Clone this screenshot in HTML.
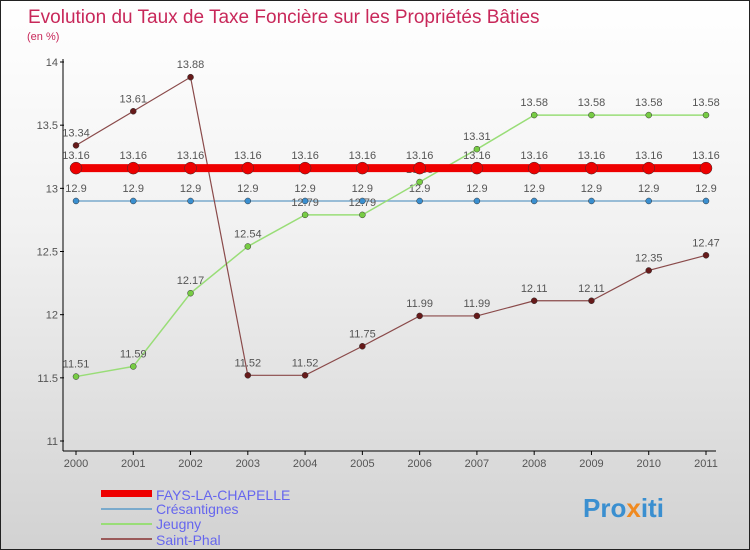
<!DOCTYPE html>
<html><head><meta charset="utf-8"><style>
body{margin:0;width:750px;height:550px;overflow:hidden}
#wrap{position:relative;width:748px;height:548px;border:1px solid #222;background:linear-gradient(#fff 0%,#f2f2f2 40%,#d2d2d2 100%);font-family:"Liberation Sans",sans-serif}
</style></head><body>
<div id="wrap">
<svg id="svg" width="748" height="548" style="position:absolute;left:0;top:0">
<text x="27" y="22" font-size="19" fill="#c8285a">Evolution du Taux de Taxe Foncière sur les Propriétés Bâties</text>
<text x="26" y="39" font-size="11" fill="#c8285a">(en %)</text>
<g id="axes"></g><g id="series"></g>
<g>
<rect x="100" y="489" width="51" height="7" fill="#e00"/>
<text x="155" y="499" font-size="14" fill="#6666ee">FAYS-LA-CHAPELLE</text>
<rect x="100" y="507" width="51" height="2" fill="#7aaacc"/>
<text x="155" y="513" font-size="14" fill="#6666ee">Crésantignes</text>
<rect x="100" y="522" width="51" height="2" fill="#99dd77"/>
<text x="155" y="528" font-size="14" fill="#6666ee">Jeugny</text>
<rect x="100" y="537" width="51" height="2" fill="#9a5a5a"/>
<text x="155" y="544" font-size="14" fill="#6666ee">Saint-Phal</text>
</g>
<g><text x="582" y="516" font-size="26" font-weight="bold" fill="#3a8fd0">Pro<tspan fill="#f08a20">x</tspan>iti</text></g>
</svg>
</div>
<script>
const years=[2000,2001,2002,2003,2004,2005,2006,2007,2008,2009,2010,2011];
const yTicks=[11,11.5,12,12.5,13,13.5,14];
const fays=[13.16,13.16,13.16,13.16,13.16,13.16,13.16,13.16,13.16,13.16,13.16,13.16];
const cres=[12.9,12.9,12.9,12.9,12.9,12.9,12.9,12.9,12.9,12.9,12.9,12.9];
const jeugny=[11.51,11.59,12.17,12.54,12.79,12.79,13.05,13.31,13.58,13.58,13.58,13.58];
const phal=[13.34,13.61,13.88,11.52,11.52,11.75,11.99,11.99,12.11,12.11,12.35,12.47];
const NS="http://www.w3.org/2000/svg";
function X(i){return 75+i*(630/11);}
function Y(v){return 440-(v-11)*126.33;}
function mk(t,a,p){const e=document.createElementNS(NS,t);for(const k in a)e.setAttribute(k,a[k]);p.appendChild(e);return e;}
const ax=document.getElementById('axes'),sg=document.getElementById('series');
let l=mk('line',{x1:62,y1:58,x2:62,y2:450,stroke:'#000'},ax);


l=mk('line',{x1:62,y1:450,x2:715,y2:450,stroke:'#000'},ax);


yTicks.forEach(v=>{const y=Y(v);mk('line',{x1:59,y1:y,x2:63,y2:y,stroke:'#000'},ax);
const t=mk('text',{x:57,y:y+4,'font-size':11,fill:'#555','text-anchor':'end'},ax);t.textContent=v;

});
years.forEach((yr,i)=>{const x=X(i);mk('line',{x1:x,y1:450,x2:x,y2:454,stroke:'#000'},ax);
const t=mk('text',{x:x,y:466,'font-size':11,fill:'#555','text-anchor':'middle'},ax);t.textContent=yr;

});
function series(d,name,color,w,r,dot){
 const p=mk('polyline',{points:d.map((v,i)=>X(i)+','+Y(v)).join(' '),fill:'none',stroke:color,'stroke-width':w},sg);
 
 
 d.forEach((v,i)=>{const c=mk('circle',{cx:X(i),cy:Y(v),r:r,fill:dot,stroke:'#333','stroke-width':0.5},sg);
 
 
 const t=mk('text',{x:X(i),y:Y(v)-9,'font-size':11,fill:'#555','text-anchor':'middle'},sg);t.textContent=String(v).replace(/\.?0+$/,'');
 
 });
}
series(cres,'cresantignes','#7aaacc',1.5,3,'#3a8fd0');
series(jeugny,'jeugny','#99dd77',1.5,3,'#77cc44');
series(phal,'saint-phal','#8a4a4a',1.2,3,'#661a1a');
series(fays,'fays','#e00',8,6,'#e00');
</script>
</body></html>
